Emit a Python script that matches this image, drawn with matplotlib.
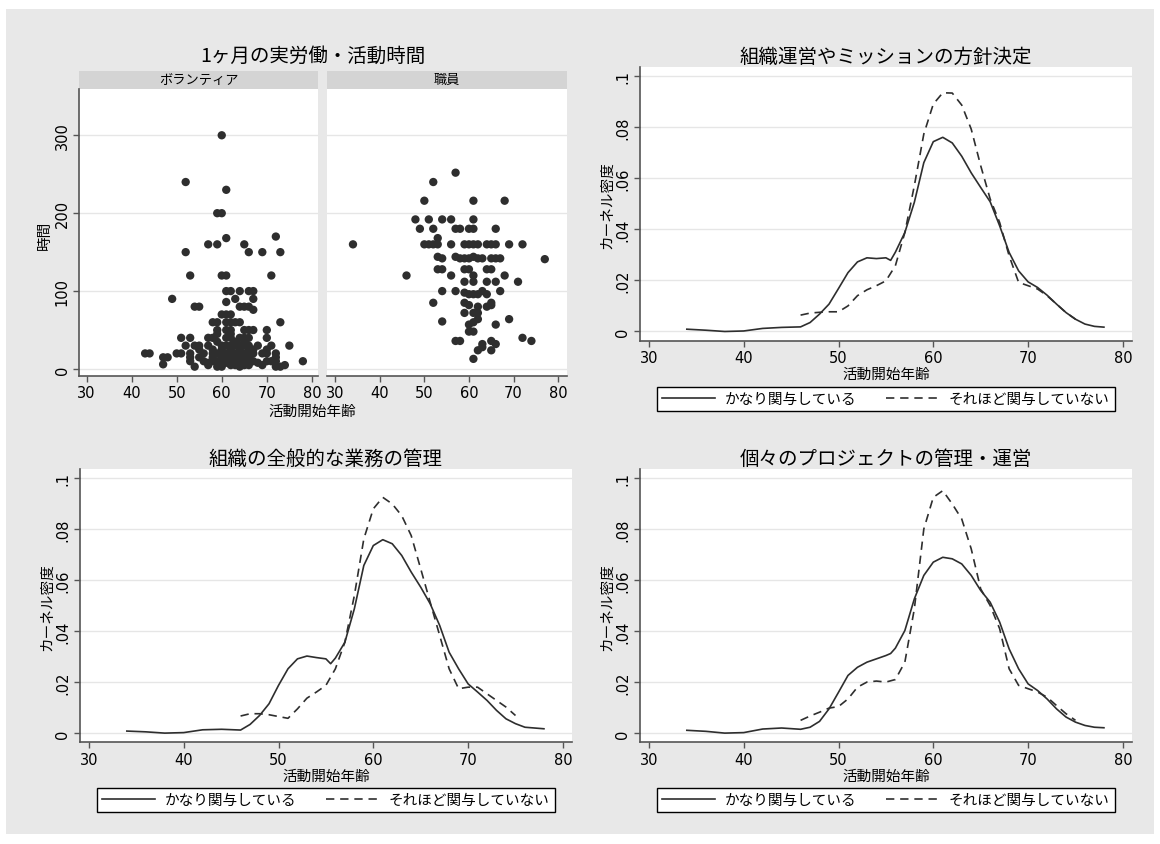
import numpy as np
import matplotlib.pyplot as plt
from matplotlib.patches import Rectangle

plt.rcParams['font.family'] = ['Noto Sans CJK JP', 'DejaVu Sans']

# scatter: volunteers (age at start, hours per month)
vol_age = [60, 52, 61, 59, 60, 61, 72, 57, 59, 65, 52, 66, 69, 73, 53, 60, 61, 71, 49, 54, 55,
           61, 62, 64, 66, 67, 61, 63, 67, 64, 65, 66, 67, 60, 61, 62,
           58, 59, 61, 62, 63, 64, 73, 59, 61, 62, 65, 66, 67, 70,
           51, 53, 57, 58, 61, 62, 64, 65, 66, 70,
           52, 54, 55, 57, 60, 61, 62, 63, 64, 65, 66, 68, 71, 75,
           43, 44, 50, 51, 53, 56, 58, 59, 60, 61, 62, 63, 64, 65, 66, 67, 69, 70, 72,
           47, 48, 53, 55, 58, 60, 62, 64, 66, 72,
           53, 56, 58, 59, 60, 61, 63, 65, 67, 70, 71, 72, 78,
           47, 54, 57, 59, 60, 62, 63, 64, 65, 66, 69, 72, 73, 74, 57, 61, 64, 68,
           55, 58, 60, 62, 64, 66, 67, 70, 59, 63, 65, 61, 63, 65, 59, 62]
vol_hours = [300, 240, 230, 200, 200, 168, 170, 160, 160, 160, 150, 150, 150, 150, 120, 120, 120, 120, 90, 80, 80,
             100, 100, 100, 100, 100, 86, 90, 90, 80, 80, 80, 76, 70, 70, 70,
             60, 60, 60, 60, 60, 60, 60, 50, 50, 50, 50, 50, 50, 50,
             40, 40, 40, 40, 40, 40, 40, 40, 40, 40,
             30, 30, 30, 30, 30, 30, 30, 30, 30, 30, 30, 30, 30, 30,
             20, 20, 20, 20, 20, 20, 20, 20, 20, 20, 20, 20, 20, 20, 20, 20, 20, 20, 20,
             15, 15, 15, 15, 15, 15, 15, 15, 15, 15,
             10, 10, 10, 10, 10, 10, 10, 10, 10, 10, 10, 10, 10,
             6, 3, 5, 3, 3, 5, 5, 3, 5, 5, 5, 3, 3, 5, 8, 8, 8, 8,
             25, 25, 25, 25, 25, 25, 25, 25, 35, 35, 35, 12, 12, 12, 45, 45]

# scatter: staff
stf_age = [57, 52, 50, 61, 68, 48, 51, 54, 56, 61, 49, 52, 57, 58, 60, 61, 66, 53,
           34, 50, 51, 52, 53, 56, 59, 60, 61, 62, 64, 65, 66, 69, 72,
           53, 54, 57, 58, 59, 60, 61, 62, 63, 65, 66, 67, 77,
           53, 54, 59, 60, 64, 65, 46, 56, 61, 68, 59, 61, 64, 66, 71,
           54, 57, 59, 60, 61, 62, 63, 64, 67, 52, 59, 60, 62, 64, 65, 65,
           59, 61, 62, 62, 69, 61, 54, 60, 66, 60, 61,
           57, 58, 72, 74, 65, 63, 66, 62, 65, 63, 61]
stf_hours = [252, 240, 216, 216, 216, 192, 192, 192, 192, 192, 180, 180, 180, 180, 180, 180, 180, 168,
             160, 160, 160, 160, 160, 160, 160, 160, 160, 160, 160, 160, 160, 160, 160,
             144, 142, 144, 142, 142, 142, 144, 142, 142, 142, 142, 142, 141,
             128, 128, 128, 128, 128, 128, 120, 120, 120, 120, 112, 112, 112, 112, 112,
             100, 100, 98, 96, 96, 96, 100, 96, 100, 85, 85, 82, 80, 80, 85, 82,
             72, 72, 72, 64, 64, 60, 61, 57, 57, 48, 48,
             36, 36, 40, 36, 36, 32, 32, 24, 24, 28, 13]

# kernel density curves
solid_x = [34, 36, 38, 40, 42, 44, 46, 47, 48, 49, 50, 51, 52, 53, 54, 55, 55.5, 56, 57, 58, 59, 60,
           61, 62, 63, 64, 65, 66, 67, 68, 69, 70, 71, 72, 73, 74, 75, 76, 77, 78]
dash_x = [46, 47, 48, 49, 50, 51, 52, 53, 54, 55, 56, 57, 58, 59, 60, 61, 62, 63, 64, 65, 66, 67,
          68, 69, 70, 71, 72, 73, 74, 75]

p2_solid = [.0009, .0005, 0, .0002, .0012, .0016, .0018, .0035, .0068, .0107, .0168, .023, .0272, .0288,
            .0285, .0288, .0278, .031, .0387, .0505, .066, .0742, .0759, .0737, .0685, .062, .0563, .0507,
            .0413, .0309, .0237, .0194, .0172, .0142, .0107, .0074, .0048, .0029, .002, .0017]
p2_dash = [.0064, .0072, .0075, .0077, .0077, .0100, .0140, .0163, .0179, .0198, .0257, .0387, .057, .0772,
           .0889, .0933, .0932, .0885, .0791, .0648, .0518, .0426, .0296, .0192, .0179, .0166, .014, .0107,
           .0074, .0048]
p3_solid = [.0008, .0005, 0, .0002, .0013, .0015, .0012, .0034, .0069, .0115, .0187, .0252, .0291, .0302,
            .0296, .0291, .0272, .0294, .0356, .0487, .0657, .0735, .0758, .0742, .0696, .0631, .0572, .0507,
            .0422, .0317, .0252, .0193, .0161, .0128, .0089, .0056, .0037, .0023, .002, .0017]
p3_dash = [.0067, .0076, .0076, .0072, .0065, .0058, .0095, .0137, .0161, .0187, .0252, .0356, .0539, .0761,
           .0879, .0924, .0898, .0852, .0774, .0644, .0513, .0383, .0252, .0174, .018, .018, .0154, .0128,
           .0102, .0069]
p4_solid = [.0011, .0007, 0, .0002, .0016, .002, .0015, .0023, .0046, .0095, .016, .0226, .0258, .0278,
            .0291, .0304, .0312, .0333, .0402, .0526, .0618, .067, .0689, .0683, .0663, .0618, .0559, .0513,
            .0435, .033, .0252, .0193, .0167, .0134, .0095, .0063, .0043, .003, .0023, .0021]
p4_dash = [.005, .0067, .0082, .0098, .0104, .0134, .018, .02, .0204, .02, .021, .0278, .0487, .08,
           .0924, .095, .0898, .0839, .0722, .0565, .05, .0409, .0252, .0187, .0174, .0161, .0141, .0108,
           .0076, .005]

titles = ['組織運営やミッションの方針決定', '組織の全般的な業務の管理', '個々のプロジェクトの管理・運営']
legend_labels = ['かなり関与している', 'それほど関与していない']
dens_ticks = [0, .02, .04, .06, .08, .1]
dens_ticklabels = ['0', '.02', '.04', '.06', '.08', '.1']
age_ticks = [30, 40, 50, 60, 70, 80]

W, H = 1160, 845
BG = '#e8e8e8'
AXC = '#555555'
INK = '#2e2e2e'
num_font = ['Liberation Sans Narrow', 'DejaVu Sans']


def box(l, t, r, b):
    return [l / W, 1 - b / H, (r - l) / W, (b - t) / H]


def style_axis(ax, left=True):
    for s in ['top', 'right']:
        ax.spines[s].set_visible(False)
    ax.spines['left'].set_visible(left)
    for s in ['left', 'bottom']:
        ax.spines[s].set_color(AXC)
        ax.spines[s].set_linewidth(1.2)
    ax.tick_params(direction='out', length=4, width=1, color=AXC, labelsize=10.5, pad=3)
    ax.tick_params(axis='y', left=left, labelleft=left)
    for lab in ax.get_xticklabels() + ax.get_yticklabels():
        lab.set_family(num_font)
    for lab in ax.get_yticklabels():
        lab.set_rotation(90)
        lab.set_va('center')
    ax.yaxis.grid(True, color='#e6e6e6', lw=1)
    ax.set_axisbelow(True)


fig = plt.figure(figsize=(W / 100, H / 100), dpi=100)
fig.patch.set_facecolor('white')
fig.add_artist(Rectangle((6 / W, 1 - 835 / H), 1148 / W, 825 / H, transform=fig.transFigure,
                         facecolor=BG, edgecolor='none', zorder=0))

# scatter panel (two facets)
facets = [(79.3, 318.2, 'ボランティア', vol_age, vol_hours, (28.4, 81.4)),
          (327.1, 567.1, '職員', stf_age, stf_hours, (28.2, 82.0))]
for i, (l, r, name, xs, ys, xl) in enumerate(facets):
    strip = fig.add_axes(box(l, 71.7, r, 90))
    strip.set_facecolor('#d4d4d4')
    strip.set_xticks([])
    strip.set_yticks([])
    for s in strip.spines.values():
        s.set_visible(False)
    strip.text(0.5, 0.5, name, ha='center', va='center', fontsize=9.5, transform=strip.transAxes)

    ax = fig.add_axes(box(l, 90, r, 376.7))
    ax.scatter(xs, ys, s=36, color=INK, edgecolors='none', zorder=3)
    ax.set_xlim(*xl)
    ax.set_ylim(-8.6, 359.4)
    ax.set_xticks(age_ticks)
    ax.set_yticks([0, 100, 200, 300])
    style_axis(ax, left=(i == 0))

fig.text(312.5 / W, 1 - 56 / H, '1ヶ月の実労働・活動時間', ha='center', va='center', fontsize=14)
fig.text(312.5 / W, 1 - 412 / H, '活動開始年齢', ha='center', va='center', fontsize=10.5)
fig.text(45 / W, 1 - 235 / H, '時間', ha='center', va='center', fontsize=10.5, rotation=90)

# density panels
panels = [(640, 1131.8, 67.7, 341.7, p2_solid, p2_dash),
          (80, 571.8, 470, 743.3, p3_solid, p3_dash),
          (640, 1131.8, 470, 743.3, p4_solid, p4_dash)]
for k, (l, r, t, b, ys, yd) in enumerate(panels):
    ax = fig.add_axes(box(l, t, r, b))
    ax.plot(solid_x, ys, color=INK, lw=1.2, label=legend_labels[0])
    ax.plot(dash_x, yd, color=INK, lw=1.2, linestyle=(0, (5, 3.5)), label=legend_labels[1])
    ax.set_xlim(29.06, 80.94)
    ax.set_ylim(-0.0036, 0.1035)
    ax.set_xticks(age_ticks)
    ax.set_yticks(dens_ticks)
    ax.set_yticklabels(dens_ticklabels)
    style_axis(ax)
    ax.set_title(titles[k], fontsize=14, pad=3)
    ax.set_xlabel('活動開始年齢', fontsize=10.5, labelpad=1)
    ax.set_ylabel('カーネル密度', fontsize=10.5, labelpad=1)
    cx = (l + r) / 2
    leg = ax.legend(loc='center', bbox_to_anchor=(cx / W, 1 - (b + 58) / H), bbox_transform=fig.transFigure,
                    ncol=2, frameon=True, fancybox=False, edgecolor='black', framealpha=1,
                    fontsize=10.5, handlelength=3.6, handletextpad=0.7, columnspacing=2.0,
                    borderpad=0.35)
    leg.get_frame().set_linewidth(1.0)

fig.savefig('out.png', dpi=100, facecolor='white')
